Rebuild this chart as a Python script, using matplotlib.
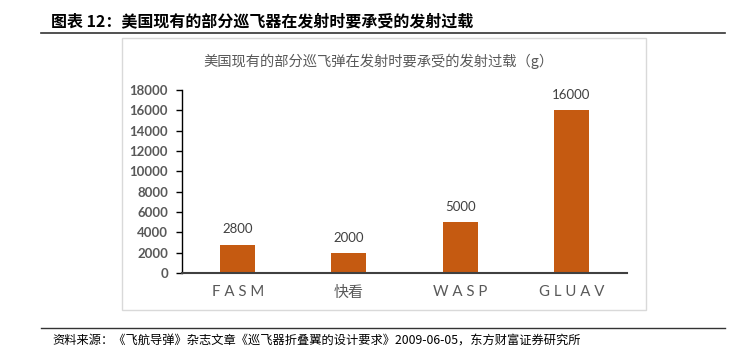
# -*- coding: utf-8 -*-
import matplotlib
matplotlib.use("Agg")
import matplotlib.pyplot as plt
from matplotlib.patches import Rectangle

plt.rcParams['font.family'] = ['Lato', 'Noto Sans CJK SC', 'DejaVu Sans']

W, H = 745, 352
categories = ['F A S M', '快看', 'W A S P', 'G L U A V']
values = [2800, 2000, 5000, 16000]
yticks = [0, 2000, 4000, 6000, 8000, 10000, 12000, 14000, 16000, 18000]

fig = plt.figure(figsize=(W / 100, H / 100), dpi=100)

def fx(px):
    return px / W

def fy(py):
    return 1 - py / H

# header and footer
fig.text(fx(51), fy(21), '图表 12：美国现有的部分巡飞器在发射时要承受的发射过载',
         fontsize=11.5, fontweight='bold', color='black', va='center',
         family=['Noto Sans CJK SC', 'DejaVu Sans'])
fig.add_artist(plt.Line2D([fx(41), fx(725)], [fy(33), fy(33)], color='#333333', lw=1.2))
fig.add_artist(plt.Line2D([fx(41), fx(725)], [fy(328), fy(328)], color='#333333', lw=1.0))
fig.text(fx(52), fy(341), '资料来源：《飞航导弹》杂志文章《巡飞器折叠翼的设计要求》2009-06-05，东方财富证券研究所',
         fontsize=8.8, color='black', va='center',
         family=['Noto Sans CJK SC', 'DejaVu Sans'])

# chart frame
fig.add_artist(Rectangle((fx(122), fy(310)), fx(646) - fx(122), fy(38) - fy(310),
                         transform=fig.transFigure, fill=False, edgecolor='#D9D9D9', lw=1.0))
fig.text(fx(378), fy(61), '美国现有的部分巡飞弹在发射时要承受的发射过载（g）',
         fontsize=10.3, color='#595959', ha='center', va='center',
         family=['Noto Sans CJK SC', 'DejaVu Sans'])

ax = fig.add_axes([fx(182), fy(273), fx(627) - fx(182), fy(90) - fy(273)])
x = range(len(categories))
bars = ax.bar(x, values, width=0.315, color='#C55A11', zorder=2)
for xi, v in zip(x, values):
    ax.text(xi, v + 900, str(v), ha='center', va='bottom', fontsize=9.5, color='#404040')

ax.set_xlim(-0.5, len(categories) - 0.5)
ax.set_ylim(0, 18000)
ax.set_yticks(yticks)
ax.set_yticklabels([str(t) for t in yticks], fontsize=9.5, fontweight='bold', color='#595959')
ax.set_xticks(list(x))
ax.set_xticklabels(categories, fontsize=10.8, color='#595959')
ax.tick_params(axis='x', length=0, pad=9)
ax.tick_params(axis='y', length=4, width=1, color='black', pad=6)
for s in ['top', 'right']:
    ax.spines[s].set_visible(False)
ax.spines['left'].set_color('black')
ax.spines['left'].set_linewidth(1.0)
ax.spines['bottom'].set_color('#404040')
ax.spines['bottom'].set_linewidth(1.5)
ax.patch.set_alpha(0)

fig.savefig('out.png', dpi=100)
